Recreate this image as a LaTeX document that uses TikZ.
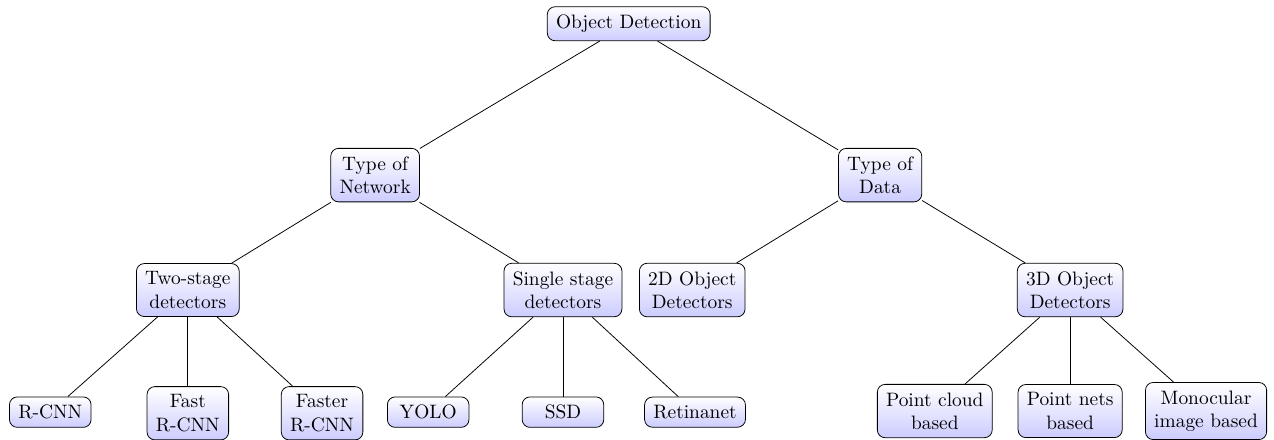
\documentclass[tikz,border=0pt]{standalone}
\usepackage{tikz}
\usetikzlibrary{shapes,arrows}
\tikzset{%
	block/.style    = {draw, rectangle, rounded corners=4pt, align=center,
		top color=white, bottom color=blue!20, inner xsep=4.5pt,
		inner ysep=4.2pt, minimum height=15.5pt,
		minimum width=4.2em}, % Tree node
	edge/.style     = {draw} % Branch
}

\begin{document}
\begin{tikzpicture}
			\useasboundingbox (0,0) rectangle (23.06,-7.95);
			\node[block] (od) at (11.38,-0.43) {Object Detection} ;
			\node[block] (net) at (6.79,-3.17) {Type of\\Network} ;
			\node[block] (data) at (15.93,-3.17) {Type of\\Data} ;
			\node[block] (two) at (3.40,-5.25) {Two-stage\\detectors} ;
			\node[block] (single) at (10.19,-5.25) {Single stage\\detectors} ;
			\node[block] (det2d) at (12.53,-5.25) {2D Object\\Detectors} ;
			\node[block] (det3d) at (19.37,-5.25) {3D Object\\Detectors} ;
			\node[block] (rcnn) at (0.91,-7.46) {R-CNN} ;
			\node[block] (fast) at (3.40,-7.48) {Fast\\R-CNN} ;
			\node[block] (faster) at (5.83,-7.48) {Faster\\R-CNN} ;
			\node[block] (yolo) at (7.75,-7.46) {YOLO} ;
			\node[block] (ssd) at (10.19,-7.46) {SSD} ;
			\node[block] (retina) at (12.58,-7.46) {Retinanet} ;
			\node[block] (cloud) at (16.92,-7.44) {Point cloud\\based} ;
			\node[block] (nets) at (19.37,-7.44) {Point nets\\based} ;
			\node[block] (mono) at (21.83,-7.44) {Monocular\\image based} ;
			
			\draw[edge] (od) -- (net);
			\draw[edge] (od) -- (data);
			\draw[edge] (net) -- (two);
			\draw[edge] (net) -- (single);
			\draw[edge] (data) -- (det2d);
			\draw[edge] (data) -- (det3d);
			\draw[edge] (two) -- (rcnn);
			\draw[edge] (two) -- (fast);
			\draw[edge] (two) -- (faster);
			\draw[edge] (single) -- (yolo);
			\draw[edge] (single) -- (ssd);
			\draw[edge] (single) -- (retina);
			\draw[edge] (det3d) -- (cloud);
			\draw[edge] (det3d) -- (nets);
			\draw[edge] (det3d) -- (mono);
		\end{tikzpicture}
\end{document}
